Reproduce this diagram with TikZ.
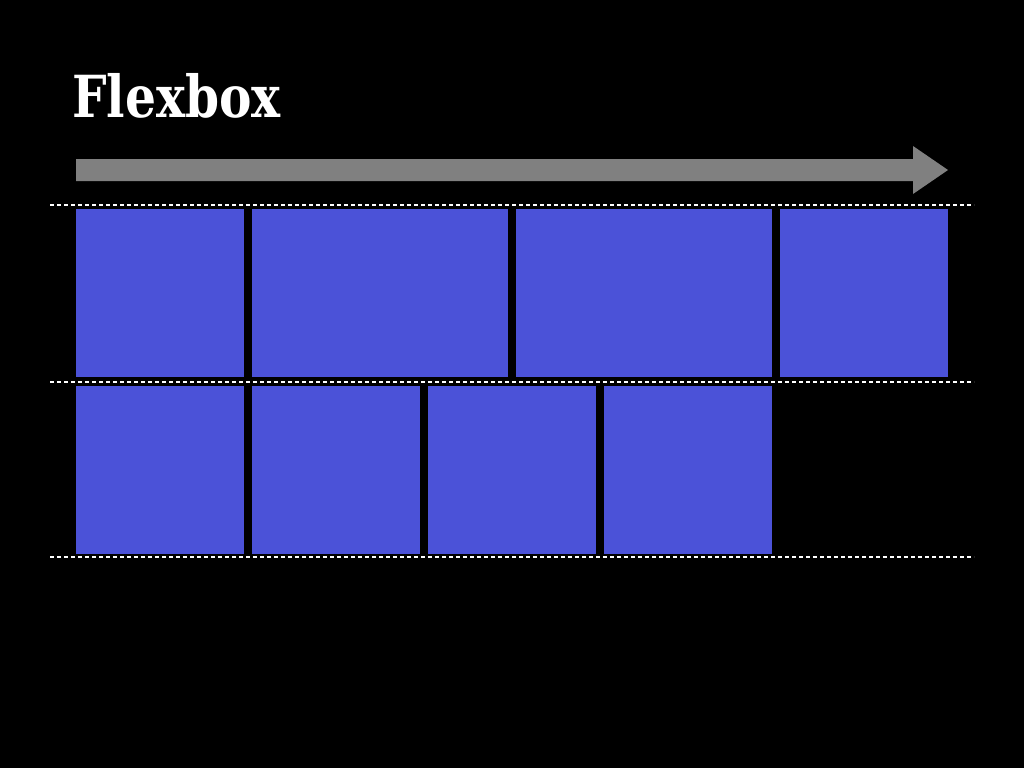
\documentclass[tikz,border=0pt]{standalone}
\usepackage{fontspec}
\setmainfont{DejaVu Serif}
\usepackage{tikz}
\usetikzlibrary{positioning}
\definecolor{flexblue}{RGB}{75,82,216}
\definecolor{flexgray}{RGB}{128,128,128}

\begin{document}
\begin{tikzpicture}
[x=1pt, y=-1pt,
% STYLES
% The title style is used for the heading of the slide
title/.style={anchor=base west, inner sep=0pt, text=white, font=\fontsize{58}{60}\selectfont\bfseries},
% The item style is used to draw the flex items
item/.style={rectangle, fill=flexblue, inner sep=0pt, outer sep=0pt, anchor=north west, minimum height=168pt},
% The line style is used to draw the borders of each flex line
line/.style={white, line width=1.2pt, dash pattern=on 4pt off 3pt}]

% Background
\fill[black] (0,0) rectangle (1024,768);
\useasboundingbox (0,0) rectangle (1024,768);

% Draw title
\node [title] (heading) at (72,117) {\scalebox{0.84}[1]{Flexbox}};

% Draw main axis arrow
\fill[flexgray] (76,159) -- (913,159) -- (913,146) -- (948,170) -- (913,194)
  -- (913,181) -- (76,181) -- cycle;

%%%%%%%%%%%%%%%
% Flex lines
\draw[line] (50,205) -- (974,205);
\draw[line] (50,382) -- (974,382);
\draw[line] (50,557) -- (974,557);

% first line
\node [item, minimum width=168pt] (item1) at (76,209) {};
\node [item, minimum width=256pt, right=8pt of item1.north east, anchor=north west] (item2) {};
\node [item, minimum width=256pt, right=8pt of item2.north east, anchor=north west] (item3) {};
\node [item, minimum width=168pt, right=8pt of item3.north east, anchor=north west] (item4) {};

% second line
\node [item, minimum width=168pt] (item5) at (76,386) {};
\node [item, minimum width=168pt, right=8pt of item5.north east, anchor=north west] (item6) {};
\node [item, minimum width=168pt, right=8pt of item6.north east, anchor=north west] (item7) {};
\node [item, minimum width=168pt, right=8pt of item7.north east, anchor=north west] (item8) {};
%%%%%%%%%%%%%%%

\end{tikzpicture}
\end{document}
